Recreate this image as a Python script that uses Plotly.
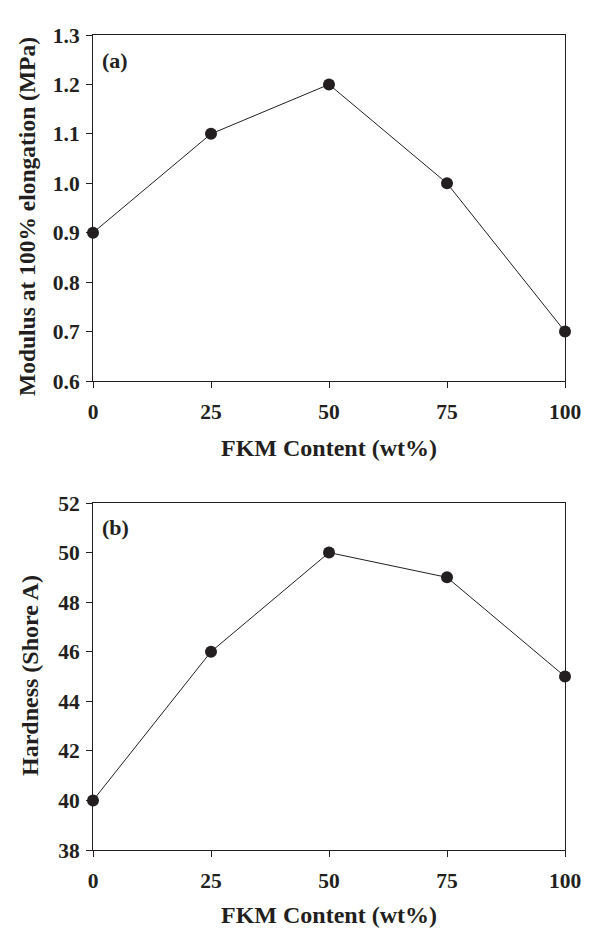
import plotly.graph_objects as go

fkm = [0, 25, 50, 75, 100]
modulus = [0.9, 1.1, 1.2, 1.0, 0.7]
hardness = [40, 46, 50, 49, 45]
x_ticks = [0, 25, 50, 75, 100]
y1_ticks = [0.6, 0.7, 0.8, 0.9, 1.0, 1.1, 1.2, 1.3]
y2_ticks = [38, 40, 42, 44, 46, 48, 50, 52]

FONT = "Liberation Serif"
INK = "#231f20"

fig = go.Figure()
line = dict(color=INK, width=1)
marker = dict(color=INK, size=12)
fig.add_trace(go.Scatter(x=fkm, y=modulus, mode="lines+markers", line=line,
                         marker=marker, xaxis="x", yaxis="y", cliponaxis=False))
fig.add_trace(go.Scatter(x=fkm, y=hardness, mode="lines+markers", line=line,
                         marker=marker, xaxis="x2", yaxis="y2", cliponaxis=False))

H, T, B = 930, 35, 80
ph = H - T - B


def py(p):
    return (H - B - p) / ph


ax_common = dict(showline=True, linecolor=INK, linewidth=1, mirror=True,
                 ticks="outside", ticklen=6, tickcolor=INK, showgrid=False,
                 zeroline=False, tickfont=dict(size=21.5))

fig.update_layout(
    width=592, height=H,
    margin=dict(l=93, r=27, t=T, b=B),
    paper_bgcolor="white", plot_bgcolor="white",
    showlegend=False,
    font=dict(family=FONT, color=INK, size=21),
    xaxis=dict(ax_common, domain=[0, 1], range=[0, 100], tickvals=x_ticks,
               ticktext=[f"<b>{v}</b>" for v in x_ticks], anchor="y", ticklabelstandoff=5),
    yaxis=dict(ax_common, domain=[py(381), 1], range=[0.6, 1.3], tickvals=y1_ticks,
               ticktext=[f"<b>{v:.1f}</b>" for v in y1_ticks], anchor="x", ticklabelstandoff=2),
    xaxis2=dict(ax_common, domain=[0, 1], range=[0, 100], tickvals=x_ticks,
                ticktext=[f"<b>{v}</b>" for v in x_ticks], anchor="y2", ticklabelstandoff=5),
    yaxis2=dict(ax_common, domain=[0, py(503)], range=[38, 52], tickvals=y2_ticks,
                ticktext=[f"<b>{v}</b>" for v in y2_ticks], anchor="x2", ticklabelstandoff=2),
)

for yy in (448, 915):
    fig.add_annotation(text="<b>FKM Content (wt%)</b>", xref="paper", yref="paper",
                       x=0.5, y=py(yy), xanchor="center", yanchor="middle", showarrow=False,
                       font=dict(family=FONT, size=24, color=INK))

fig.add_annotation(text="<b>Modulus at 100% elongation (MPa)</b>", xref="paper", yref="paper",
                   x=(27 - 93) / 472, y=py(217), xanchor="center", yanchor="middle",
                   textangle=-90, showarrow=False, font=dict(family=FONT, size=23.5, color=INK))
fig.add_annotation(text="<b>Hardness (Shore A)</b>", xref="paper", yref="paper",
                   x=(30 - 93) / 472, y=py(676), xanchor="center", yanchor="middle",
                   textangle=-90, showarrow=False, font=dict(family=FONT, size=24, color=INK))
fig.add_annotation(text="<b>(a)</b>", xref="paper", yref="paper",
                   x=(100 - 93) / 472, y=py(60), xanchor="left", yanchor="middle",
                   showarrow=False, font=dict(family=FONT, size=22, color=INK))
fig.add_annotation(text="<b>(b)</b>", xref="paper", yref="paper",
                   x=(100 - 93) / 472, y=py(527), xanchor="left", yanchor="middle",
                   showarrow=False, font=dict(family=FONT, size=22, color=INK))

fig.write_html("out.html")
